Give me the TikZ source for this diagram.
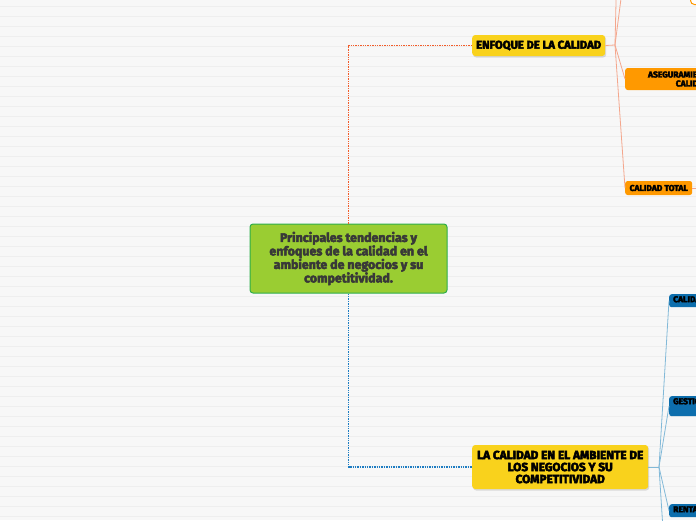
\documentclass[tikz,border=0pt]{standalone}
\usepackage{fontspec}
\setmainfont{Fira Sans}[BoldFeatures={FakeBold=4}]
\usetikzlibrary{positioning, shadows}

\definecolor{fondo}{HTML}{F7F7F7}
\definecolor{raya}{HTML}{EEEEEE}
\definecolor{verde}{HTML}{9ACD32}
\definecolor{verdeborde}{HTML}{2DAE4A}
\definecolor{amarillo}{HTML}{F9D21C}
\definecolor{naranja}{HTML}{FF9900}
\definecolor{naranjaraya}{HTML}{F25C2A}
\definecolor{salmon}{HTML}{F4A68C}
\definecolor{azul}{HTML}{1C7CC2}
\definecolor{azulcaja}{HTML}{0D6EAD}
\definecolor{celeste}{HTML}{82B9D8}

\begin{document}
\begin{tikzpicture}[
      x=1pt, y=-1pt,
      centro/.style={draw=verdeborde, fill=verde, line width=1pt, rounded corners=3pt,
                     align=center, text=black!78, inner sep=0pt,
                     font=\fontsize{12.4}{13.5}\selectfont\bfseries,
                     minimum width=197pt, minimum height=69pt},
      tema/.style={fill=amarillo, rounded corners=3pt, align=center, inner sep=0pt,
                   font=\fontsize{11.3}{12}\selectfont\bfseries,
                   drop shadow={shadow xshift=1pt, shadow yshift=-1.5pt, opacity=.25}},
      subnar/.style={fill=naranja, rounded corners=2.5pt, align=center, inner sep=0pt,
                     font=\fontsize{8.5}{9}\selectfont\bfseries},
      subaz/.style={fill=azulcaja, rounded corners=2.5pt, inner xsep=4pt, inner ysep=3pt,
                    text height=5pt, text depth=2pt,
                    font=\fontsize{8.5}{9}\selectfont\bfseries},
      ramanar/.style={naranjaraya, line width=1.6pt, dash pattern=on 1.4pt off 1pt},
      ramaaz/.style={azul, line width=1.6pt, dash pattern=on 1.4pt off 1pt},
      hilonar/.style={salmon, line width=0.8pt},
      hiloaz/.style={celeste, line width=0.8pt}
    ]
    % fondo rayado
    \useasboundingbox (0,0) rectangle (696,520);
    \fill[fondo] (0,0) rectangle (696,520);
    \foreach \y in {6,16,...,516}
      \draw[raya, line width=0.6pt] (0,\y) -- (696,\y);

    % nodo central y temas
    \node[centro] (centro) at (348.5,258.5)
      {Principales tendencias y\\ enfoques de la calidad en el\\ ambiente de negocios y su\\ competitividad.};
    \node[tema, anchor=west, minimum width=133pt, minimum height=21pt] (enfoque) at (472,45.5)
      {ENFOQUE DE LA CALIDAD};
    \node[tema, anchor=west, minimum width=176pt, minimum height=44pt,
          font=\fontsize{11.8}{12}\selectfont\bfseries] (ambiente) at (472,467)
      {LA CALIDAD EN EL AMBIENTE DE\\ LOS NEGOCIOS Y SU\\ COMPETITIVIDAD};

    % subtemas naranjas
    \node[subnar, anchor=west, minimum width=134pt, minimum height=22pt] (asegura) at (625,79)
      {ASEGURAMIENTO DE LA\\ CALIDAD};
    \node[subnar, anchor=west, minimum width=67pt, minimum height=14pt] (total) at (625,188)
      {CALIDAD TOTAL};
    \node[draw=naranja, fill=white, line width=1pt, rounded corners=4pt, anchor=south west,
          minimum width=80pt, minimum height=24pt] (arriba) at (690,5) {};

    % subtemas azules
    \node[subaz, anchor=north west] (calid) at (669,294) {CALIDAD};
    \node[subaz, anchor=north west, text depth=9pt] (gesti) at (669,396) {GESTIÓN};
    \node[subaz, anchor=north west] (renta) at (669,504) {RENTABILIDAD};

    \coordinate (nudoA) at (615,45);
    \coordinate (nudoB) at (659,467);
    \coordinate (fueraA) at (617,-40);
    \coordinate (fueraB) at (626,-40);
    \coordinate (fueraC) at (664,545);
    \coordinate (fueraD) at (720,188);

    % ramas punteadas
    \draw[ramanar] (centro.north) |- (enfoque.west);
    \draw[ramaaz] (centro.south) |- (ambiente.west);

    % hilos finos
    \draw[hilonar] (enfoque.east) -- (nudoA);
    \draw[hilonar] (nudoA) -- (fueraA);
    \draw[hilonar] (nudoA) -- (fueraB);
    \draw[hilonar] (nudoA) -- (asegura.west);
    \draw[hilonar] (nudoA) -- (total.west);
    \draw[hilonar] (total.east) -- (fueraD);
    \draw[hiloaz] (ambiente.east) -- (nudoB);
    \draw[hiloaz] (nudoB) -- (calid.west);
    \draw[hiloaz] (nudoB) -- (gesti.west);
    \draw[hiloaz] (nudoB) -- (renta.west);
    \draw[hiloaz] (nudoB) -- (fueraC);
  \end{tikzpicture}
\end{document}
